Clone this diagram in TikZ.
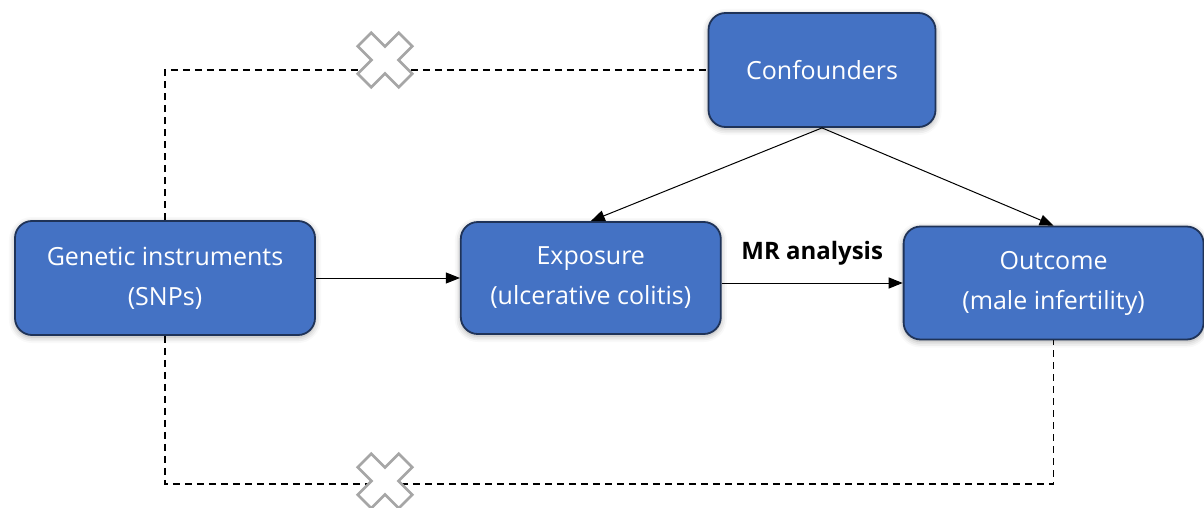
\documentclass[tikz,border=0pt]{standalone}
\usepackage{fontspec}
\setmainfont{Open Sans}
\usepackage{tikz}
\usetikzlibrary{positioning, arrows.meta, shadows.blur}

\definecolor{boxblue}{HTML}{4472C4}
\definecolor{boxline}{HTML}{1F3358}
\definecolor{crossgray}{HTML}{A6A6A6}

\begin{document}
\begin{tikzpicture}[x=1pt, y=-1pt, font=\fontsize{25}{40}\selectfont,
  blk/.style={draw=boxline, line width=1.8pt, fill=boxblue, rounded corners=17pt,
    text=white, align=center, inner sep=0pt,
    blur shadow={shadow xshift=0pt, shadow yshift=-2pt, shadow blur radius=6pt, shadow opacity=35}},
  link/.style={-{Triangle[length=14pt, width=11pt]}, line width=1pt},
  nolink/.style={line width=1.4pt, dash pattern=on 7pt off 5pt},
  nocross/.pic={
    \draw[crossgray, fill=white, line width=2.6pt, rotate=45]
      (9.5,29) -- (9.5,9.5) -- (29,9.5) -- (29,-9.5) -- (9.5,-9.5) -- (9.5,-29)
      -- (-9.5,-29) -- (-9.5,-9.5) -- (-29,-9.5) -- (-29,9.5) -- (-9.5,9.5) -- (-9.5,29) -- cycle;
  }]
\useasboundingbox (0,0) rectangle (1204,508);
\node[blk, minimum width=300pt, minimum height=114pt] (gen) at (165,278) {Genetic instruments\\(SNPs)};
\node[blk, minimum width=260pt, minimum height=112pt, right=144pt of gen] (expo) {Exposure\\(ulcerative colitis)};
\node[blk, minimum width=300pt, minimum height=113pt, right=181pt of expo, yshift=-5pt] (out) {Outcome\\(male infertility)};
\node[blk, minimum width=227pt, minimum height=114pt] (conf) at (822,70) {Confounders};
% pleiotropy paths that are excluded
\coordinate (tl) at (gen.north |- conf.west);
\coordinate (bl) at (165,484);
\coordinate (br) at (out.south |- bl);
\draw[nolink] (gen.north) -- (tl) -- (conf.west);
\draw[nolink] (gen.south) -- (bl) -- (br) -- (out.south);
\pic at (385,60) {nocross};
\pic at (385,481) {nocross};
% causal paths
\draw[link] (gen) -- (expo);
\draw[link] (expo.east |- out.west) -- node[above=14pt, text=black, font=\fontsize{24}{28}\selectfont\bfseries] (mr) {MR analysis} (out.west);
\draw[link] (conf.south) -- (expo.north);
\draw[link] (conf.south) -- (out.north);
\end{tikzpicture}
\end{document}
